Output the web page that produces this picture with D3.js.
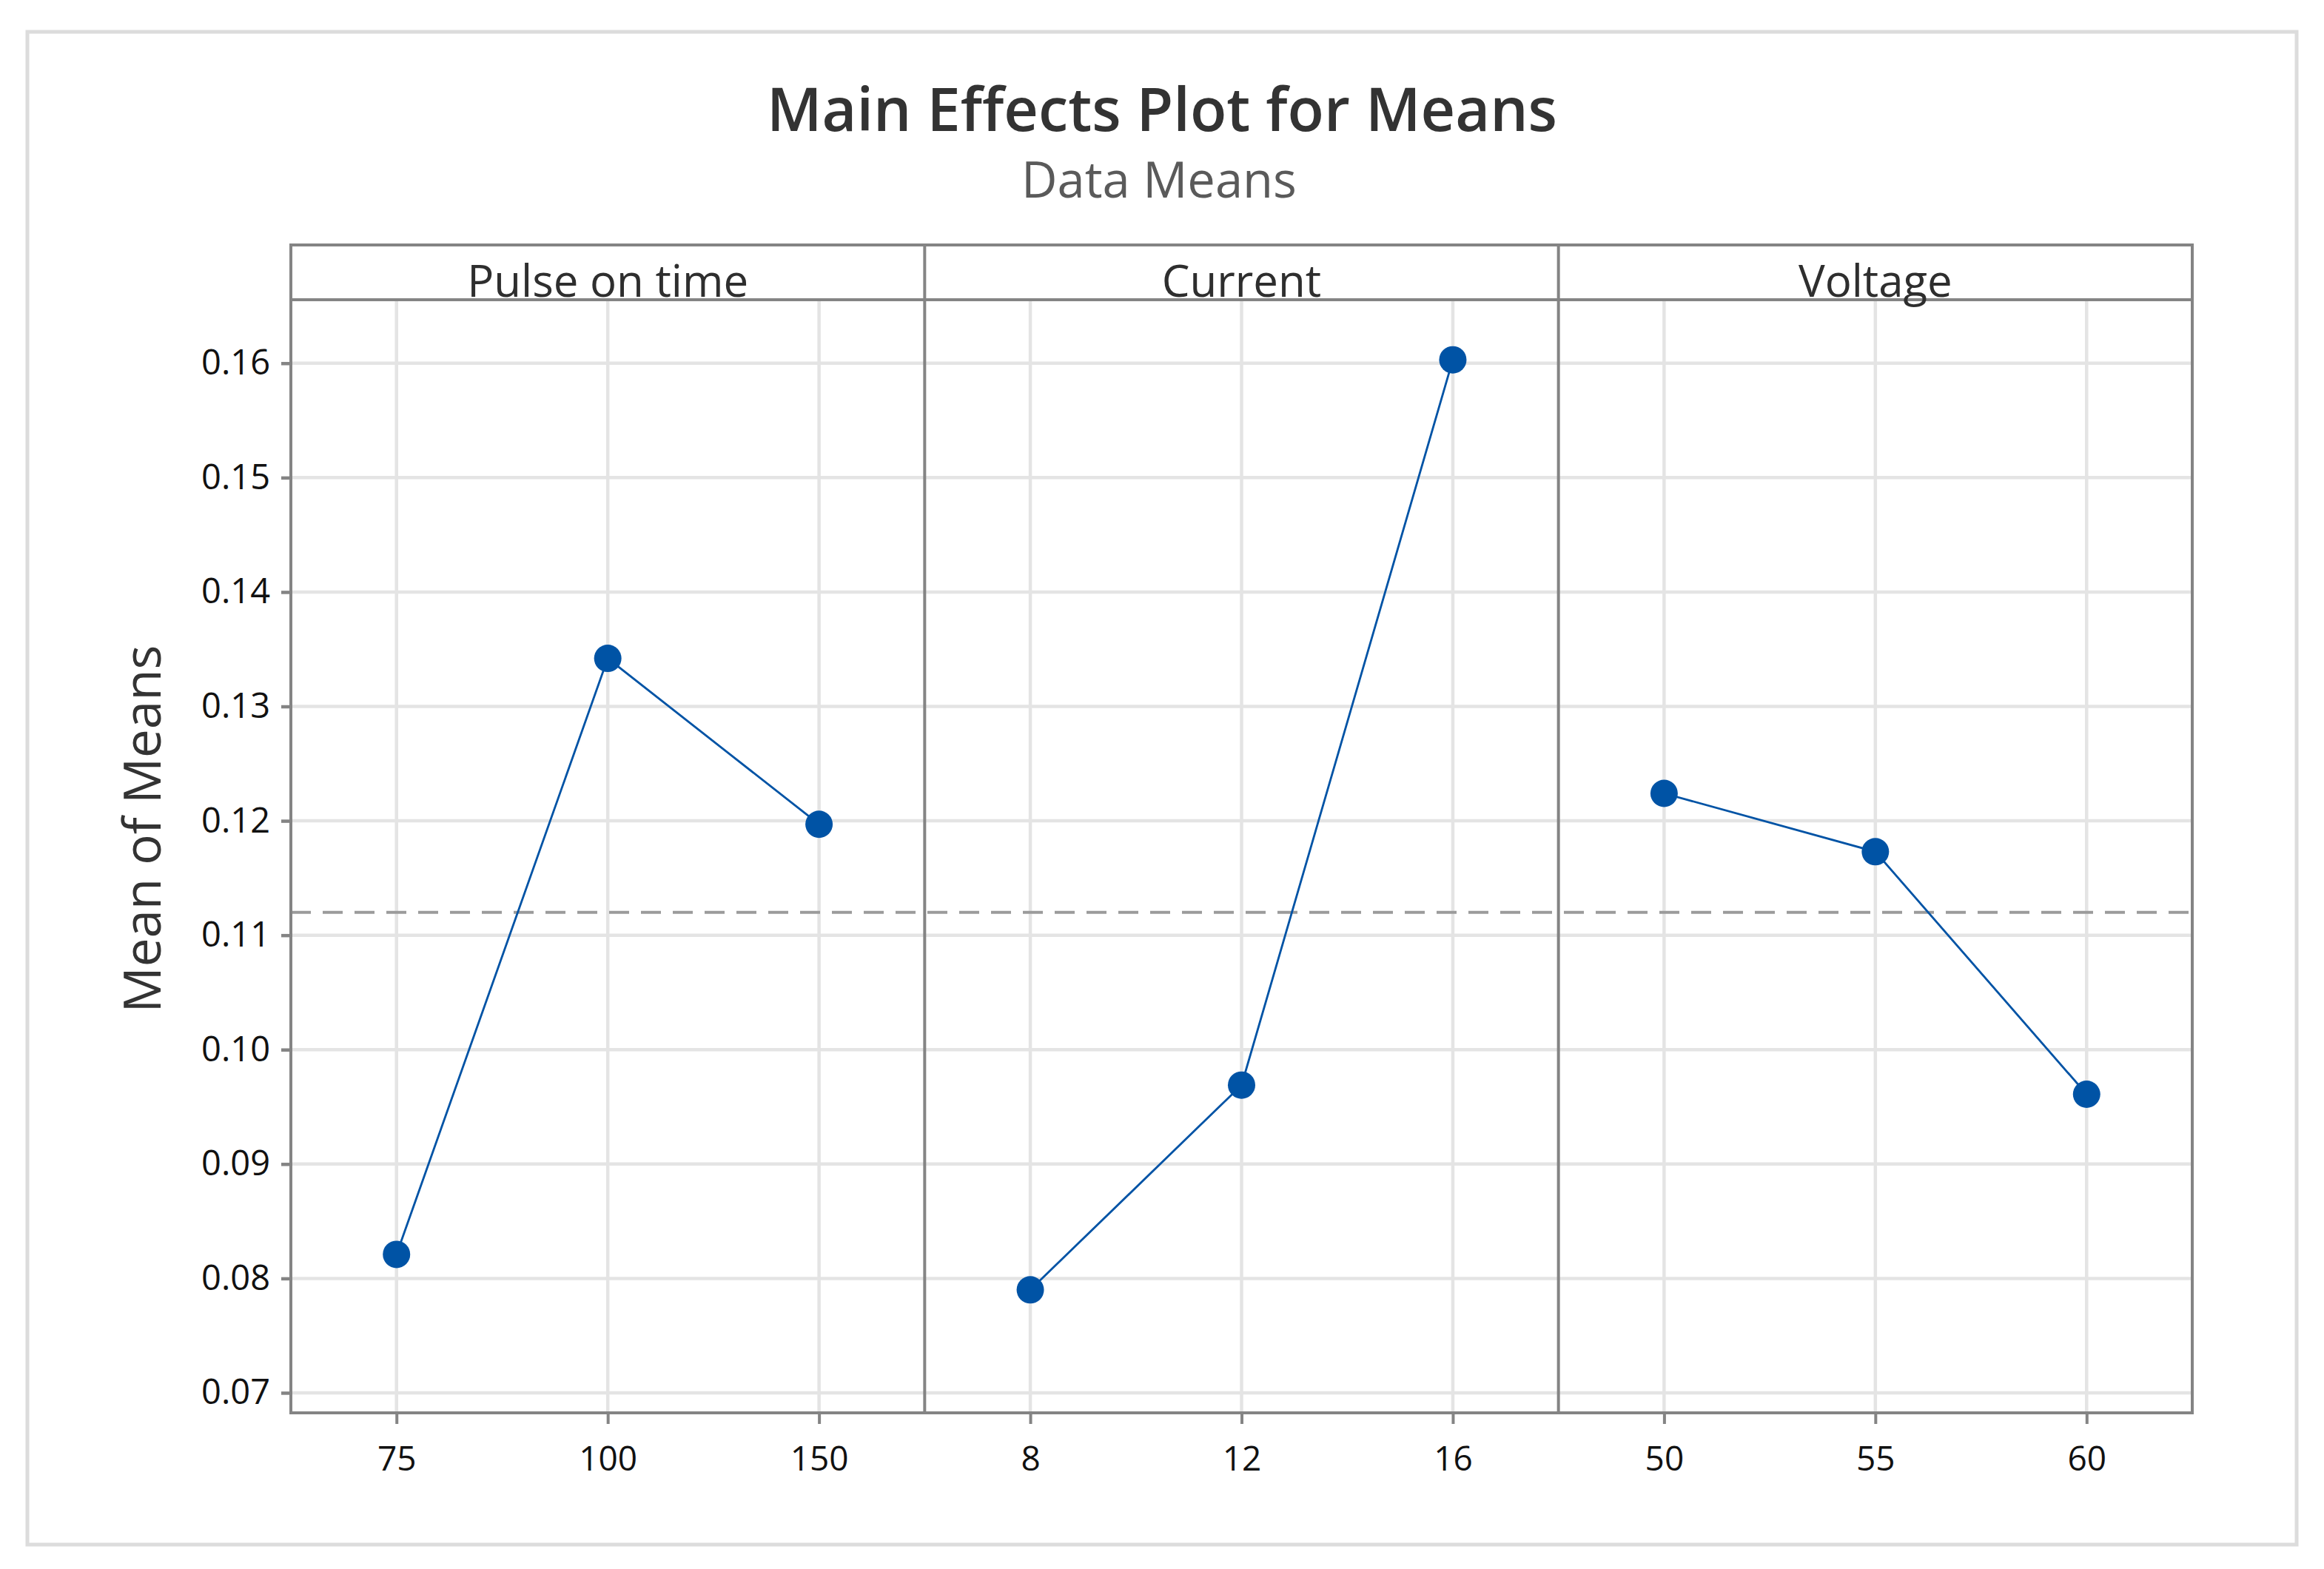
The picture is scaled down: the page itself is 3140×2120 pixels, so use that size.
<!DOCTYPE html>
<html><head><meta charset="utf-8">
<script src="https://cdn.jsdelivr.net/npm/d3@7"></script>
<style>html,body{margin:0;padding:0;background:#fff}</style>
</head><body><svg id="c" width="3140" height="2120" xmlns="http://www.w3.org/2000/svg"></svg>
<script>
// ---- data ----
const titleText = "Main Effects Plot for Means";
const subtitleText = "Data Means";
const yLabelText = "Mean of Means";
const factors = ["Pulse on time", "Current", "Voltage"];
const pulseLevels = ["75", "100", "150"];
const pulseMeans = [0.0821, 0.1342, 0.1197];
const currentLevels = ["8", "12", "16"];
const currentMeans = [0.0790, 0.0969, 0.1603];
const voltageLevels = ["50", "55", "60"];
const voltageMeans = [0.1224, 0.1173, 0.0961];
const yTicks = [0.07, 0.08, 0.09, 0.10, 0.11, 0.12, 0.13, 0.14, 0.15, 0.16];
const yDomain = [0.06825, 0.16555];

const panels = [
  {name: factors[0], levels: pulseLevels, means: pulseMeans},
  {name: factors[1], levels: currentLevels, means: currentMeans},
  {name: factors[2], levels: voltageLevels, means: voltageMeans}
];
const grandMean = d3.mean([].concat(pulseMeans, currentMeans, voltageMeans));

// ---- layout ----
const W = 3140, H = 2120;
const L = 393, R = 2962, stripTop = 331, T = 405, B = 1909;
const FONT = "'Open Sans', 'Noto Sans', sans-serif";
const frameCol = "#848484", gridCol = "#e4e4e4", blue = "#0053a5";

const svg = d3.select("#c");
svg.append("rect").attr("width", W).attr("height", H).attr("fill", "#fff");
svg.append("rect").attr("x", 37).attr("y", 43).attr("width", 3066).attr("height", 2044)
  .attr("fill", "none").attr("stroke", "#dcdcdc").attr("stroke-width", 5);

function fit(sel, w) {
  const fs = parseFloat(sel.attr("font-size"));
  const m = sel.node().getComputedTextLength();
  sel.attr("font-size", (fs * w / m).toFixed(2));
  return fs * w / m;
}

// titles
const t = svg.append("text").attr("x", 1570).attr("y", 177).attr("text-anchor", "middle")
  .attr("font-family", FONT).attr("font-weight", 600).attr("font-size", 70)
  .attr("fill", "#333").text(titleText);
fit(t, 1068);
const st = svg.append("text").attr("x", 1566).attr("y", 267).attr("text-anchor", "middle")
  .attr("font-family", FONT).attr("font-size", 55).attr("fill", "#5a5a5a").text(subtitleText);
fit(st, 372);

// scales
const y = d3.scaleLinear().domain(yDomain).range([B, T]);
const panelW = (R - L) / panels.length;
panels.forEach((p, i) => {
  p.x0 = L + i * panelW; p.x1 = L + (i + 1) * panelW;
  p.x = d3.scalePoint().domain(p.levels).range([p.x0, p.x1]).padding(0.5);
});

// gridlines
const grid = svg.append("g");
grid.selectAll("line.h").data(yTicks).join("line")
  .attr("x1", L).attr("x2", R).attr("y1", d => y(d)).attr("y2", d => y(d))
  .attr("stroke", gridCol).attr("stroke-width", 4.5);
panels.forEach(p => {
  grid.selectAll(null).data(p.levels).join("line")
    .attr("x1", d => p.x(d)).attr("x2", d => p.x(d)).attr("y1", T).attr("y2", B)
    .attr("stroke", gridCol).attr("stroke-width", 4.5);
});

// grand mean reference
svg.append("line").attr("x1", L).attr("x2", R).attr("y1", y(grandMean)).attr("y2", y(grandMean))
  .attr("stroke", "#9b9b9b").attr("stroke-width", 4).attr("stroke-dasharray", "27,16");

// data
panels.forEach(p => {
  const g = svg.append("g");
  const pts = p.levels.map((l, k) => [p.x(l), y(p.means[k])]);
  g.append("path").attr("d", d3.line()(pts)).attr("fill", "none")
    .attr("stroke", blue).attr("stroke-width", 2.8);
  g.selectAll("circle").data(p.levels).join("circle")
    .attr("cx", d => p.x(d)).attr("cy", (d, k) => y(p.means[k])).attr("r", 18.5)
    .attr("fill", blue);
});

// frame
const fr = svg.append("g").attr("stroke", frameCol).attr("stroke-width", 4).attr("fill", "none");
fr.append("rect").attr("x", L).attr("y", stripTop).attr("width", R - L).attr("height", B - stripTop);
fr.append("line").attr("x1", L).attr("x2", R).attr("y1", T).attr("y2", T);
panels.slice(1).forEach(p => {
  fr.append("line").attr("x1", p.x0).attr("x2", p.x0).attr("y1", stripTop).attr("y2", B);
});

// strip labels
const stripLabels = svg.selectAll("text.strip").data(panels).join("text").attr("class", "strip")
  .attr("x", p => (p.x0 + p.x1) / 2).attr("y", 401).attr("text-anchor", "middle")
  .attr("font-family", FONT).attr("font-size", 60).attr("fill", "#2e2e2e").text(p => p.name);
const fsStrip = fit(d3.select(stripLabels.nodes()[0]), 380);
stripLabels.attr("font-size", fsStrip.toFixed(2));

// y axis
const yAxis = svg.append("g").attr("transform", `translate(${L},0)`)
  .call(d3.axisLeft(y).tickValues(yTicks).tickFormat(d3.format(".2f")).tickSize(13).tickPadding(15).tickSizeOuter(0));
yAxis.select(".domain").remove();
yAxis.selectAll(".tick line").attr("stroke", frameCol).attr("stroke-width", 4.5);
yAxis.selectAll(".tick text").attr("font-family", FONT).attr("font-size", 47)
  .attr("font-weight", 500).attr("fill", "#111");

// x axes
panels.forEach(p => {
  const ax = svg.append("g").attr("transform", `translate(0,${B})`)
    .call(d3.axisBottom(p.x).tickSize(15).tickPadding(30).tickSizeOuter(0));
  ax.select(".domain").remove();
  ax.selectAll(".tick line").attr("stroke", frameCol).attr("stroke-width", 4);
  ax.selectAll(".tick text").attr("font-family", FONT).attr("font-size", 46)
    .attr("font-weight", 500).attr("fill", "#111");
});

// y label
const yl = svg.append("text").attr("transform", "translate(217,1120) rotate(-90)")
  .attr("text-anchor", "middle").attr("font-family", FONT).attr("font-size", 64)
  .attr("fill", "#333").text(yLabelText);
fit(yl, 497);
</script></body></html>
